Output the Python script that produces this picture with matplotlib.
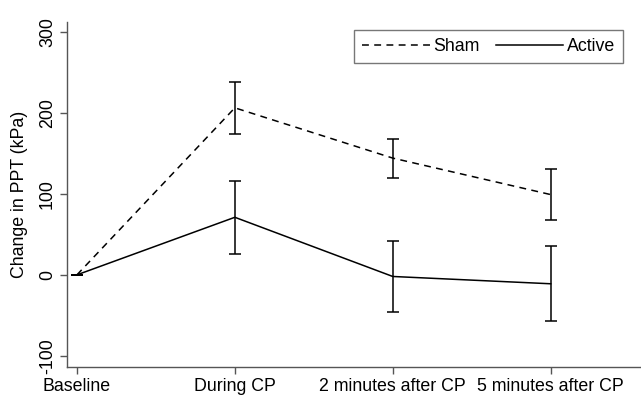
import matplotlib
matplotlib.use("Agg")
import matplotlib.pyplot as plt
import numpy as np

plt.rcParams['font.family'] = ['Liberation Sans', 'DejaVu Sans']

# data
timepoints = ['Baseline', 'During CP', '2 minutes after CP', '5 minutes after CP']
sham_mean = [0, 206, 144, 99]
sham_err = [0, 32, 24, 31]
active_mean = [0, 71, -2, -11]
active_err = [0, 45, 44, 46]
yticks = [-100, 0, 100, 200, 300]

x = np.arange(len(timepoints))
spinecol = '#555555'
fs = 12.8

fig = plt.figure(figsize=(6.41, 3.98), dpi=100)
ax = fig.add_axes([0.1045, 0.078, 0.895, 0.867])

ax.plot(x, sham_mean, color='black', lw=1.1, ls=(0, (4.5, 3.5)), label='Sham')
ax.plot(x, active_mean, color='black', lw=1.1, ls='-', label='Active')
# error bars (baseline error is zero, only the cap shows)
ax.errorbar(x, sham_mean, yerr=sham_err, fmt='none', ecolor='black',
            elinewidth=1.1, capsize=4, capthick=1.1)
ax.errorbar(x, active_mean, yerr=active_err, fmt='none', ecolor='black',
            elinewidth=1.1, capsize=4, capthick=1.1)

ax.set_xlim(-0.063, 3.57)
ax.set_ylim(-113.6, 312)
ax.set_xticks(x)
ax.set_xticklabels(timepoints, fontsize=fs)
ax.set_yticks(yticks)
ax.set_yticklabels([str(v) for v in yticks], fontsize=fs, rotation=90, va='center')
ax.set_ylabel('Change in PPT (kPa)', fontsize=fs, labelpad=8)

for s in ['top', 'right']:
    ax.spines[s].set_visible(False)
for s in ['left', 'bottom']:
    ax.spines[s].set_color(spinecol)
    ax.spines[s].set_linewidth(1.0)
ax.tick_params(axis='both', direction='out', length=5, width=1.0, color=spinecol, pad=3)

leg = ax.legend(loc='upper right', ncol=2, fontsize=fs, frameon=True, fancybox=False,
                edgecolor=spinecol, handlelength=3.8, columnspacing=0.9,
                bbox_to_anchor=(0.969, 0.977), borderaxespad=0, borderpad=0.45,
                handletextpad=0.2)
leg.get_frame().set_linewidth(1.0)

fig.savefig('out.png', dpi=100)
